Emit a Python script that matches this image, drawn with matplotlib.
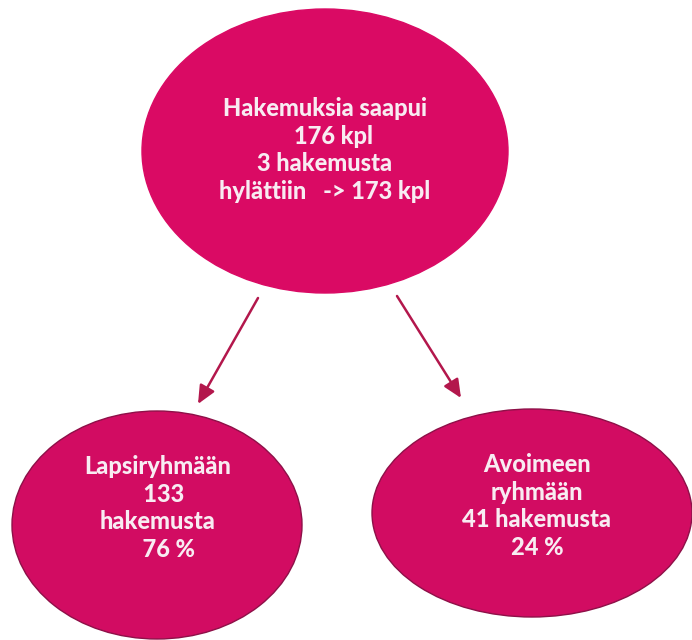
import matplotlib
matplotlib.use("Agg")
import matplotlib.pyplot as plt
from matplotlib.patches import Ellipse, FancyArrowPatch

# Node data
node_labels = [
    "Hakemuksia saapui\n   176 kpl\n3 hakemusta\nhylättiin   -> 173 kpl",
    "Lapsiryhmään\n  133\nhakemusta\n    76 %",
    "Avoimeen\nryhmään\n41 hakemusta\n24 %",
]
node_centers = [(325, 151), (157, 525), (532, 513)]
node_sizes = [(366, 284), (290, 228), (320, 208)]
text_centers = [(325, 150), (158, 508), (537, 506)]
node_faces = ["#DA0A64", "#D20C62", "#D20C62"]
node_edges = ["#DA0A64", "#8E1048", "#8E1048"]

# Arrows (start -> end)
arrow_starts = [(258, 298), (397, 296)]
arrow_ends = [(198, 404), (461, 398)]

fig = plt.figure(figsize=(6.92, 6.40), dpi=100)
ax = fig.add_axes([0, 0, 1, 1])
ax.set_xlim(0, 692)
ax.set_ylim(640, 0)
ax.axis("off")

for (cx, cy), (w, h), fc, ec in zip(node_centers, node_sizes, node_faces, node_edges):
    ax.add_patch(Ellipse((cx, cy), w, h, facecolor=fc, edgecolor=ec, linewidth=1.0))

for label, (tx, ty) in zip(node_labels, text_centers):
    ax.text(tx, ty, label, ha="center", va="center", multialignment="center",
            color="#F8ECF2", fontsize=17, fontweight="black", family="Lato",
            linespacing=1.25)

for s, e in zip(arrow_starts, arrow_ends):
    ax.add_patch(FancyArrowPatch(s, e, arrowstyle="-|>,head_length=11,head_width=5",
                                 color="#B3174C", linewidth=1.8, mutation_scale=1,
                                 shrinkA=0, shrinkB=0))

fig.savefig("out.png", dpi=100, facecolor="white")
